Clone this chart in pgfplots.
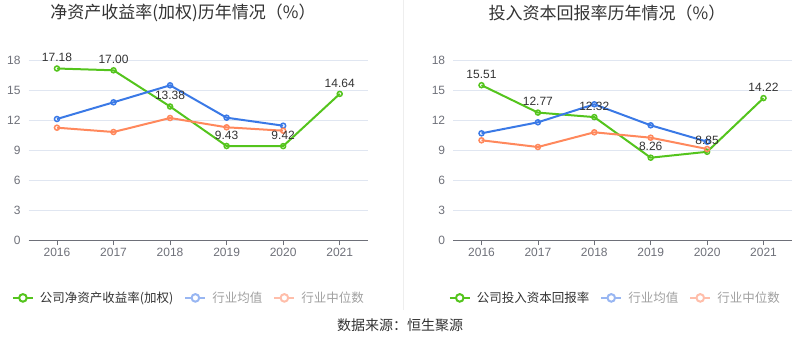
\documentclass[border=0pt]{standalone}
\usepackage{pgfplots}
\usepackage{pgfplotstable}
\pgfplotsset{compat=1.18}
\usepackage{fontspec}
\setmainfont{Liberation Sans}
\newfontfamily\cjk{Noto Sans CJK SC}

\definecolor{cgreen}{RGB}{84,196,29}
\definecolor{cblue}{RGB}{58,121,230}
\definecolor{corange}{RGB}{255,136,92}
\definecolor{lblue}{RGB}{152,182,242}
\definecolor{lorange}{RGB}{255,190,170}
\definecolor{gridc}{RGB}{224,230,241}
\definecolor{axisc}{RGB}{110,112,121}
\definecolor{tickc}{RGB}{110,112,121}
\definecolor{txt}{RGB}{51,51,51}
\definecolor{ltxt}{RGB}{160,160,160}

\pgfplotstableread{
x  comp   avg    med
0  17.18  12.13  11.26
1  17.00  13.80  10.83
2  13.38  15.50  12.23
3  9.43   12.26  11.30
4  9.42   11.46  10.96
5  14.64  nan    nan
}\roetable

\pgfplotstableread{
x  comp   avg    med
0  15.51  10.70  10.00
1  12.77  11.80  9.33
2  12.32  13.60  10.80
3  8.26   11.50  10.26
4  8.85   9.86   9.13
5  14.22  nan    nan
}\roictable

\pgfplotsset{
  mychart/.style={
    scale only axis,
    anchor=south west,
    height=180pt,
    xmin=-0.5, xmax=5.5, ymin=0, ymax=18,
    xtick={0,1,2,3,4,5},
    xticklabels={2016,2017,2018,2019,2020,2021},
    ytick={0,3,6,9,12,15,18},
    axis x line*=bottom,
    axis y line*=left,
    y axis line style={draw=none},
    x axis line style={draw=axisc, line width=0.8pt},
    tick align=outside,
    major tick length=5pt,
    xtick style={draw=axisc, line width=0.8pt},
    ytick style={draw=none},
    ymajorgrids,
    grid style={draw=gridc, line width=0.8pt},
    /pgf/number format/assume math mode=true,
    tick label style={font=\fontsize{12}{14}\selectfont, color=tickc},
    yticklabel style={inner sep=0pt, xshift=-3pt},
    xticklabel style={inner sep=0pt, yshift=-3pt},
    clip=false,
    legend columns=3,
    legend cell align=left,
    legend style={draw=none, fill=none, inner sep=0pt, anchor=west,
      font=\cjk\fontsize{12.5}{14}\selectfont,
      nodes={inner sep=0pt},
      /tikz/every odd column/.append style={column sep=6pt},
      /tikz/every even column/.append style={column sep=11pt}},
  },
  legimg/.style={
    legend image code/.code={
      \draw[line width=2pt] (0pt,0pt) -- (20pt,0pt);
      \draw[line width=2pt, fill=white] (10pt,0pt) circle (3.8pt);
    }},
  myline/.style={
    line width=2pt,
    mark=o,
    mark size=2.5pt,
    mark options={fill=white, line width=1.5pt, solid},
  },
  lbl/.style={
    draw=none, mark=none, forget plot,
    nodes near coords={\pgfmathprintnumber[fixed,fixed zerofill,precision=2]{\pgfplotspointmeta}},
    nodes near coords style={font=\fontsize{12}{14}\selectfont, color=txt, anchor=south, yshift=5.5pt, inner sep=1pt},
  },
}

\begin{document}
\begin{tikzpicture}
\path[use as bounding box] (0pt,0pt) rectangle (800pt,-358pt);
\draw[color={rgb,255:red,238;green,238;blue,238}, line width=0.8pt] (403.3pt,0pt) -- (403.3pt,-310pt);

\node[font=\cjk\fontsize{17}{20}\selectfont, color=txt] at (183pt,-13pt) {净资产收益率(加权)历年情况（\%）};
\node[font=\cjk\fontsize{17}{20}\selectfont, color=txt] at (607pt,-13pt) {投入资本回报率历年情况（\%）};
\node[font=\cjk\fontsize{14}{16}\selectfont, color=txt] at (400pt,-325pt) {数据来源：恒生聚源};

\begin{axis}[mychart, at={(28.7pt,-240.3pt)}, width=339.3pt,
  legend style={at={(-0.05,-0.32)}}]
\addlegendimage{cgreen, legimg}
\addlegendentry{\textcolor{txt}{公司净资产收益率(加权)}}
\addlegendimage{lblue, legimg}
\addlegendentry{\textcolor{ltxt}{行业均值}}
\addlegendimage{lorange, legimg}
\addlegendentry{\textcolor{ltxt}{行业中位数}}
\addplot[cgreen, myline, forget plot] table[x=x, y=comp] {\roetable};
\addplot[cblue, myline, forget plot] table[x=x, y=avg] {\roetable};
\addplot[corange, myline, forget plot] table[x=x, y=med] {\roetable};
\addplot[lbl, point meta=explicit] table[x=x, y=comp, meta=comp] {\roetable};
\end{axis}

\begin{axis}[mychart, at={(453.3pt,-240.3pt)}, width=338.4pt,
  legend style={at={(-0.014,-0.32)}}]
\addlegendimage{cgreen, legimg}
\addlegendentry{\textcolor{txt}{公司投入资本回报率}}
\addlegendimage{lblue, legimg}
\addlegendentry{\textcolor{ltxt}{行业均值}}
\addlegendimage{lorange, legimg}
\addlegendentry{\textcolor{ltxt}{行业中位数}}
\addplot[cgreen, myline, forget plot] table[x=x, y=comp] {\roictable};
\addplot[cblue, myline, forget plot] table[x=x, y=avg] {\roictable};
\addplot[corange, myline, forget plot] table[x=x, y=med] {\roictable};
\addplot[lbl, point meta=explicit] table[x=x, y=comp, meta=comp] {\roictable};
\end{axis}
\end{tikzpicture}
\end{document}
